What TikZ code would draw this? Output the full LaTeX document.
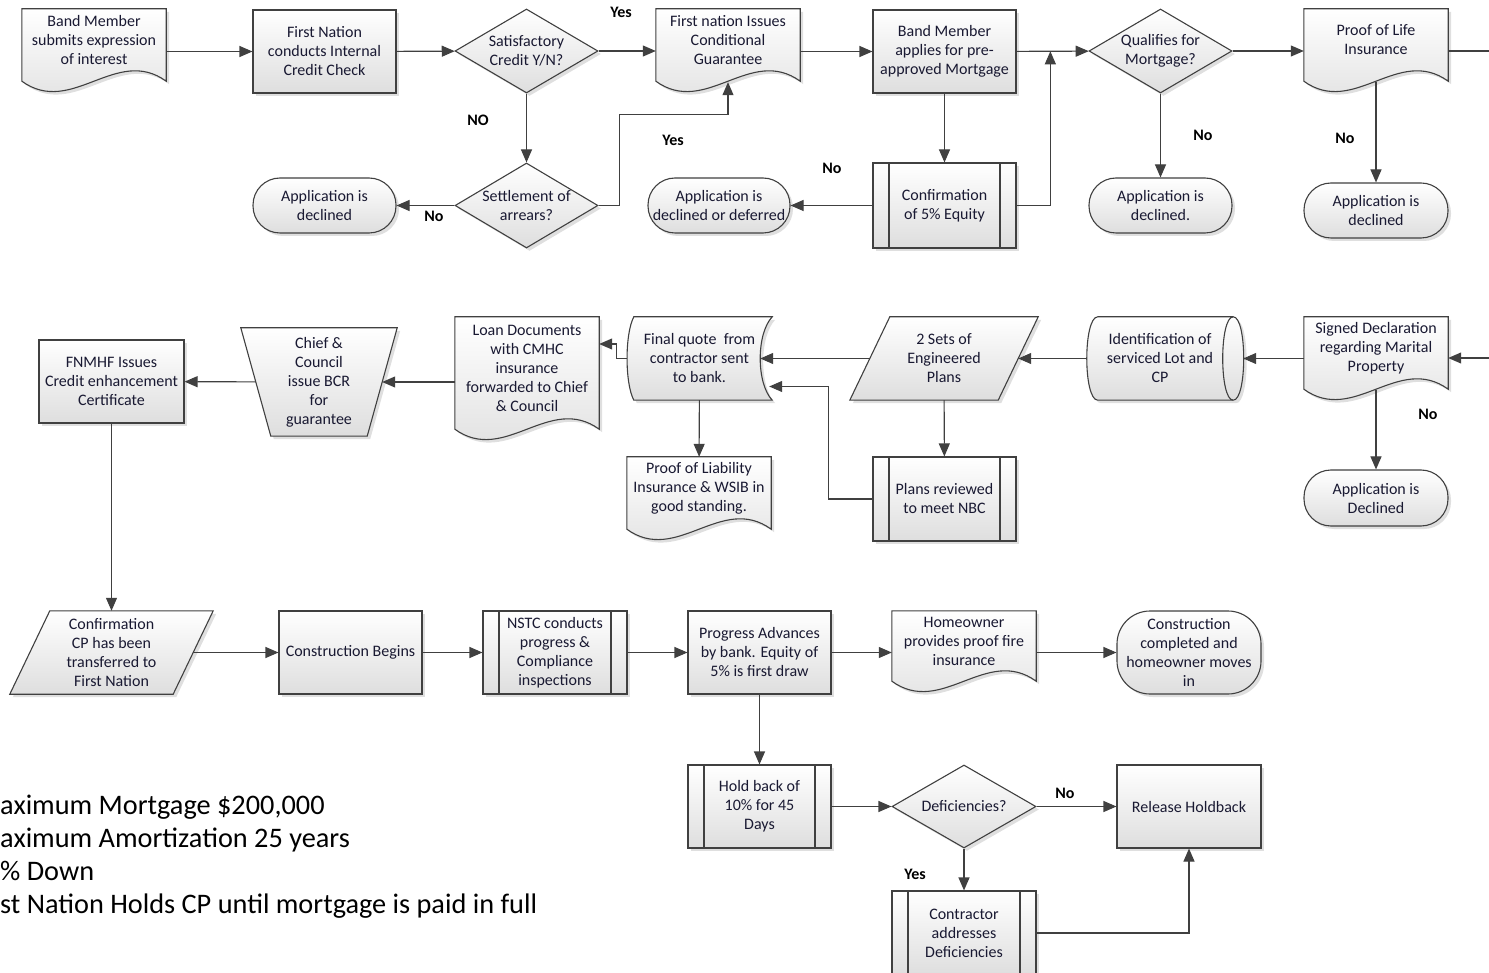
\documentclass[tikz,border=0pt]{standalone}
\usepackage{fontspec}
\setmainfont{Carlito}
\usetikzlibrary{arrows.meta,calc,shapes.geometric,shadows}
\definecolor{flowgray}{RGB}{64,64,64}
\definecolor{boxgray}{RGB}{222,222,222}
\definecolor{inkblue}{RGB}{25,25,50}
\pgfdeclarelayer{background}
\pgfsetlayers{background,main}

\begin{document}
\begin{tikzpicture}[x=1pt, y=-1pt, >={Triangle[length=13pt,width=11pt]},
  font=\fontsize{16}{19}\selectfont,
  shapebox/.style={draw=flowgray, line width=1.1pt, top color=white, bottom color=boxgray,
    drop shadow={opacity=0.25, shadow xshift=3pt, shadow yshift=-3pt}},
  plain/.style={rectangle, inner sep=0, minimum height=83, align=center, text=inkblue},
  doctxt/.style={plain, minimum width=144, minimum height=62},
  proc/.style={shapebox, plain, minimum width=143},
  predef/.style={proc, path picture={
    \draw[flowgray, line width=1.1pt]
      ($(path picture bounding box.north west)+(16,0)$) -- ($(path picture bounding box.south west)+(16,0)$)
      ($(path picture bounding box.north east)+(-16,0)$) -- ($(path picture bounding box.south east)+(-16,0)$);}},
  decision/.style={shapebox, diamond, aspect=1.7, inner sep=0, minimum width=143, minimum height=84,
    align=center, text=inkblue},
  term/.style={shapebox, plain, rounded corners=27, minimum width=143, minimum height=55},
  flow/.style={flowgray, line width=1.1pt, ->},
  link/.style={flowgray, line width=1.1pt},
  lab/.style={font=\fontsize{16}{19}\selectfont\bfseries, text=black}]
\useasboundingbox (0,0) rectangle (1489,973);

% top row
\node[doctxt] (bandsubmit) at (94,40) {Band Member\\submits expression\\of interest};
\node[proc] (credit) at (324.5,51.5) {First Nation\\conducts Internal\\Credit Check};
\node[decision] (satcredit) at (526.5,51) {Satisfactory\\Credit Y/N?};
\node[doctxt] (condguar) at (728,40) {First nation Issues\\Conditional\\Guarantee};
\node[proc] (preapp) at (944.5,51.5) {Band Member\\applies for pre-\\approved Mortgage};
\node[decision] (qualifies) at (1160.5,51) {Qualifies for\\Mortgage?};
\node[doctxt] (lifeins) at (1376,40) {Proof of Life\\Insurance};

% outcomes under the top row
\node[term] (declined1) at (324.5,205.5) {Application is\\declined};
\node[decision, minimum height=85] (settle) at (526.5,205.5) {Settlement of\\arrears?};
\node[term, minimum width=142] (deferred) at (719,205.5) {Application is\\declined or deferred};
\node[predef, minimum height=85] (equity) at (944.5,205.5) {Confirmation\\of 5\% Equity};
\node[term] (declined2) at (1160.5,205.5) {Application is\\declined.};
\node[term, minimum width=144] (declined3) at (1376,210.5) {Application is\\declined};

% second row, right to left
\node[doctxt] (signdecl) at (1376,348) {Signed Declaration\\regarding Marital\\Property};
\node[plain, minimum width=146] (ident) at (1160,358.5) {Identification of\\serviced Lot and\\CP};
\node[plain, minimum width=148] (plans) at (944,358.5) {2 Sets of\\Engineered\\Plans};
\node[plain, minimum width=145] (quote) at (699.5,358.5) {Final quote~ from\\contractor sent\\to bank.};
\node[doctxt, minimum height=102] (loandocs) at (527,368) {Loan Documents\\with CMHC\\insurance\\forwarded to Chief\\\& Council};
\node[plain, minimum width=126, minimum height=108] (chief) at (319,382) {Chief \&\\Council\\issue BCR\\for\\guarantee};
\node[proc, minimum width=145] (fnmhf) at (111.5,381.5) {FNMHF Issues\\Credit enhancement\\Certificate};
\node[doctxt] (liabins) at (699,488) {Proof of Liability\\Insurance \& WSIB in\\good standing.};
\node[predef, minimum height=84] (nbc) at (944.5,499) {Plans reviewed\\to meet NBC};
\node[term, minimum width=144, minimum height=56] (declined4) at (1376,498) {Application is\\Declined};

% third row
\node[plain, minimum width=163] (confcp) at (111.5,652.5) {Confirmation\\CP has been\\transferred to\\First Nation};
\node[proc] (constbegin) at (350.5,652.5) {Construction Begins};
\node[predef, minimum width=144] (nstc) at (555,652.5) {NSTC conducts\\progress \&\\Compliance\\inspections};
\node[proc] (progadv) at (759.5,652.5) {Progress Advances\\by bank. Equity of\\5\% is first draw};
\node[doctxt, minimum height=60] (fireins) at (964,641) {Homeowner\\provides proof fire\\insurance};
\node[term, minimum width=144, minimum height=83, rounded corners=33] (completed) at (1189,652.5) {Construction\\completed and\\homeowner moves\\in};

% holdback
\node[predef] (holdback) at (759.5,806.5) {Hold back of\\10\% for 45\\Days};
\node[decision, minimum width=144, minimum height=83] (deficient) at (964,806.5) {Deficiencies?};
\node[proc, minimum width=144] (release) at (1189,806.5) {Release Holdback};
\node[predef, minimum width=144, minimum height=84] (contractor) at (964,933) {Contractor\\addresses\\Deficiencies};

% outlines of the special shapes
\begin{pgfonlayer}{background}
\foreach \n in {bandsubmit,condguar,lifeins,signdecl,loandocs,liabins,fireins}{
  \draw[shapebox] (\n.north west) -- (\n.north east) -- ($(\n.south east)+(0,10)$)
    .. controls ($(\n.south east)+(-50,-26)$) and ($(\n.south west)+(50,46)$) .. ($(\n.south west)+(0,10)$) -- cycle;
}
\foreach \n/\d in {plans/20,confcp/20}{
  \draw[shapebox] ($(\n.north west)+(\d,0)$) -- ($(\n.north east)+(\d,0)$)
    -- ($(\n.south east)+(-\d,0)$) -- ($(\n.south west)+(-\d,0)$) -- cycle;
}
\draw[shapebox] ($(chief.north west)+(-15,0)$) -- ($(chief.north east)+(15,0)$)
  -- ($(chief.south east)+(-15,0)$) -- ($(chief.south west)+(15,0)$) -- cycle;
\draw[shapebox] ($(quote.north west)+(7,0)$) -- (quote.north east)
  .. controls ($(quote.north east)+(-16,17)$) and ($(quote.south east)+(-16,-17)$) .. (quote.south east)
  -- ($(quote.south west)+(7,0)$)
  .. controls ($(quote.south west)+(-2,-17)$) and ($(quote.north west)+(-2,17)$) .. cycle;
\draw[shapebox] ($(ident.north west)+(11,0)$) -- (ident.north east)
  .. controls ($(ident.north east)+(14,0)$) and ($(ident.south east)+(14,0)$) .. (ident.south east)
  -- ($(ident.south west)+(11,0)$)
  .. controls ($(ident.south west)+(-3.7,0)$) and ($(ident.north west)+(-3.7,0)$) .. cycle;
\draw[link] (ident.north east) .. controls ($(ident.north east)+(-14,0)$) and ($(ident.south east)+(-14,0)$) .. (ident.south east);
\end{pgfonlayer}

% connectors
\coordinate (join) at ($(preapp.east)!0.47!(qualifies.west)$);
\coordinate (offright1) at (1495,51);
\coordinate (offright2) at (1495,358);
\draw[flow] (credit.west -| bandsubmit.east) -- (credit.west);
\draw[flow] (credit) -- (satcredit);
\draw[flow] (satcredit.east) -- (satcredit.east -| condguar.west);
\draw[flow] (satcredit) -- (settle);
\draw[flow] (settle) -- (declined1);
\draw[flow] (settle.east) -- ++(21,0) -- ++(0,-91) -| ([yshift=-11]condguar.south);
\draw[flow] (preapp.west -| condguar.east) -- (preapp.west);
\draw[flow] (preapp) -- (equity);
\draw[flow] (equity) -- (deferred);
\draw[flow] (equity.east) -| (join);
\draw[flow] (preapp) -- (qualifies);
\draw[flow] (qualifies) -- (declined2);
\draw[flow] (qualifies.east) -- (qualifies.east -| lifeins.west);
\draw[flow] ([yshift=-11]lifeins.south) -- (declined3);
\draw[link] (offright1 -| lifeins.east) -- (offright1);
\draw[flow] (offright2) -- (offright2 -| signdecl.east);
\draw[flow] (ident.east -| signdecl.west) -- ([xshift=10]ident.east);
\draw[flow] ([yshift=-11]signdecl.south) -- (declined4);
\draw[flow] (ident) -- (plans);
\draw[flow] (plans.west) -- ([xshift=-12]quote.east);
\draw[flow] (plans) -- (nbc);
\draw[flow] (nbc.west) -- ++(-44,0) |- ([xshift=-3,yshift=-28]quote.east);
\draw[flow] (quote) -- (liabins);
\draw[flow] (quote.west) -- ++(-10,0) |- ([yshift=24]loandocs.east);
\draw[flow] (chief.east -| loandocs.west) -- (chief.east);
\draw[flow] (chief) -- (fnmhf);
\draw[flow] (fnmhf) -- (confcp);
\draw[flow] (confcp) -- (constbegin);
\draw[flow] (constbegin) -- (nstc);
\draw[flow] (nstc) -- (progadv);
\draw[flow] (progadv.east) -- (progadv.east -| fireins.west);
\draw[flow] (completed.west -| fireins.east) -- (completed.west);
\draw[flow] (progadv) -- (holdback);
\draw[flow] (holdback) -- (deficient);
\draw[flow] (deficient) -- (release);
\draw[flow] (deficient) -- (contractor);
\draw[flow] (contractor.east) -| (release.south);

% branch labels
\node[lab] (yes1) at (621,12) {Yes};
\node[lab] (no1) at (478,120) {NO};
\node[lab] (no2) at (434,216) {No};
\node[lab] (yes2) at (673,140) {Yes};
\node[lab] (no3) at (832,168) {No};
\node[lab] (no4) at (1203,135) {No};
\node[lab] (no5) at (1345,138) {No};
\node[lab] (no6) at (1428,414) {No};
\node[lab] (no7) at (1065,793) {No};
\node[lab] (yes3) at (915,874) {Yes};

% terms of the loan, as far as the picture shows them
\node[anchor=north west, align=left, inner sep=0, font=\fontsize{28.3}{33}\selectfont, text=black] (notes) at (0,795)
  {aximum Mortgage \$200,000\\aximum Amortization 25 years\\\% Down\\st Nation Holds CP until mortgage is paid in full};
\end{tikzpicture}
\end{document}
